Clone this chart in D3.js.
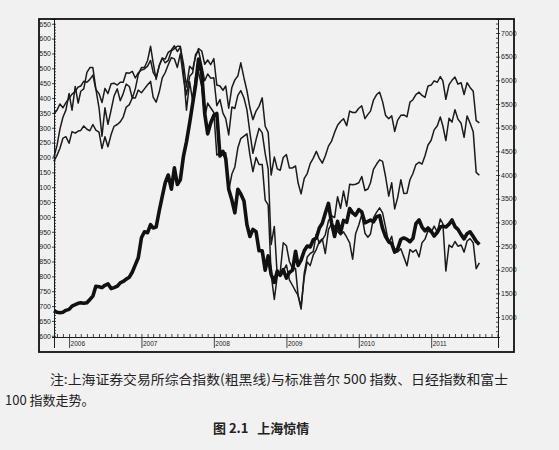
<!DOCTYPE html>
<html><head><meta charset="utf-8">
<script src="https://cdn.jsdelivr.net/npm/d3@7"></script>
<style>body{margin:0;background:#f1f1f1}svg{display:block}</style>
</head><body><svg id="c" width="559" height="450"></svg>
<script>
// ---- tick labels ----
const leftTickValues = [600,650,700,750,800,850,900,950,1000,1050,1100,1150,1200,1250,1300,1350,1400,1450,1500,1550,1600,1650];
const leftTickLabels = ["600","650","700","750","800","850","900","950","000","050","100","150","200","250","300","350","400","450","500","550","600","650"];
const rightTickValues = [1000,1500,2000,2500,3000,3500,4000,4500,5000,5500,6000,6500,7000];
const yearLabels = ["2006","2007","2008","2009","2010","2011"];

// ---- series (semi-monthly, 1st and 16th of each month, from 16 Oct 2005 to 1 Sep 2011) ----
// S&P 500 (left axis)
const sp500 = [
 1187,1207,1231,1265,1270,
 1248,1287,1282,1289,1291,1306,1295,1290,1311,1292,1285,1230,1270,1236,1277,1305,1311,1320,1336,1369,1378,1401,1400,1427,
 1418,1431,1445,1456,1403,1386,1421,1468,1486,1512,1536,1532,1503,1549,1465,1411,1473,1484,1547,1560,1509,1458,1481,1467,
 1468,1374,1395,1349,1331,1276,1370,1365,1409,1425,1400,1360,1284,1214,1260,1298,1283,1213,1161,907,968,800,816,913,
 903,850,826,827,735,690,811,865,877,883,942,911,923,940,987,1004,998,1068,1029,1087,1036,1110,1108,1110,
 1115,1136,1089,1094,1115,1160,1178,1192,1187,1136,1070,1115,1027,1065,1125,1079,1080,1125,1146,1176,1184,1178,1206,1242,
 1258,1293,1307,1336,1306,1257,1332,1319,1361,1329,1315,1268,1340,1316,1287,1150,1140];
// FTSE 100 (right axis)
const ftse100 = [
 5290,5370,5500,5420,5530,
 5620,5710,5760,5860,5880,5980,5960,6020,6110,5810,5720,5530,5830,5720,5930,5940,5900,5960,5960,6160,6150,6190,6050,6160,
 6220,6240,6300,6420,6170,6060,6310,6470,6450,6590,6640,6730,6610,6700,6350,5860,6300,6230,6500,6670,6620,6340,6430,6330,
 6460,5900,5880,5790,5880,5410,5850,6010,6090,6370,6050,5780,5420,5170,5350,5450,5630,5030,4900,4000,4380,4130,4100,4370,
 4430,4150,4150,4190,3830,3600,3930,4030,4240,4350,4500,4350,4250,4400,4610,4710,4900,5050,5130,5190,5040,5350,5320,5320,
 5410,5460,5190,5280,5350,5580,5700,5750,5550,5260,5190,5250,4920,5160,5260,5270,5230,5540,5590,5700,5750,5680,5640,5880,
 5900,5990,5960,6080,5990,5600,5910,6000,6070,5920,5950,5700,5950,5850,5770,5150,5100];
// Nikkei (read against right axis)
const nikkei = [
 4370,4620,4970,5220,5370,
 5720,5370,5870,5520,5770,5820,6170,6270,6270,5820,5420,4820,5420,5070,5370,5670,5820,5570,5720,5920,5870,5620,5820,6120,
 6270,6270,6420,6720,6370,6020,6320,6470,6370,6420,6620,6670,6720,6720,6170,5370,5970,5570,6070,6170,5870,5220,5520,5420,
 5320,4420,4470,4470,4470,3670,4020,4170,4570,4770,4820,4870,4420,4070,4370,4220,4220,3470,3370,1900,1370,1870,1920,1970,
 2100,1785,1665,1545,1455,1220,1845,2160,2085,2305,2430,2595,2650,2340,2845,2970,2920,2805,2735,2800,2685,2565,2220,2760,
 2945,3160,2770,2685,2755,3095,3215,3305,3200,2900,2555,2705,2360,2375,2440,2270,2080,2425,2370,2420,2270,2570,2645,2820,
 2785,2920,2790,3070,2970,1970,2520,2470,2595,2495,2520,2370,2605,2655,2570,2020,2145];
// Shanghai Composite (thick line, right axis)
const shanghai = [
 1130,1100,1090,1100,1140,
 1161,1230,1260,1290,1300,1290,1300,1370,1440,1650,1640,1620,1670,1700,1600,1620,1650,1720,1750,1800,1840,1950,2100,2250,
 2675,2800,2780,2950,2880,2900,3250,3550,3840,4000,3700,4150,3800,3900,4400,4700,5100,5500,5900,6450,6150,5300,4870,5100,
 5260,5300,4400,4500,4350,3700,3470,3200,3700,3600,3450,2950,2700,2850,2800,2400,2400,1990,2290,1900,1730,1970,1880,2000,
 1820,1940,1990,2390,2090,2200,2400,2500,2480,2630,2670,2880,2980,3190,3400,3000,2700,3020,2780,3040,3000,3290,3200,3150,
 3270,3220,2990,3020,3050,3010,3120,3140,2870,2700,2590,2550,2370,2440,2640,2670,2640,2590,2660,2970,3050,2900,2820,2880,
 2810,2710,2790,2900,2920,2900,2960,3050,2910,2850,2740,2650,2760,2800,2700,2600,2530];

const noteLine1 = "注:上海证券交易所综合指数(粗黑线)与标准普尔 500 指数、日经指数和富士";
const noteLine2 = "100 指数走势。";
const figTitle = "图 2.1   上海惊情";

// ---- date grid ----
const dates = [new Date(2005,9,16)];
for (let t = new Date(2005,10,1); t <= new Date(2011,8,1); t = d3.timeMonth.offset(t,1)) {
  dates.push(t);
  if (t < new Date(2011,8,1)) dates.push(new Date(t.getFullYear(), t.getMonth(), 16));
}
const zip = arr => arr.map((v,i)=>({date:dates[i], v})).filter(d=>d.date);

const svg = d3.select('#c');
const X0=54, X1=498, YT=19, YB=337;
const x = d3.scaleTime().domain([new Date(2005,9,17), new Date(2011,11,4)]).range([X0,X1]);
const yL = d3.scaleLinear().domain([596,1666]).range([YB,YT]);
const yR = d3.scaleLinear().domain([577,7296]).range([YB,YT]);

const tickFont = '"Liberation Sans Narrow","Liberation Sans",Arial,sans-serif';
const ink = '#1b1b1b';

// series
const g = svg.append('g');
const lineL = d3.line().x(d=>x(d.date)).y(d=>yL(d.v));
const lineR = d3.line().x(d=>x(d.date)).y(d=>yR(d.v));
g.append('path').attr('d', lineR(zip(nikkei))).attr('fill','none').attr('stroke',ink).attr('stroke-width',1.5).attr('stroke-linejoin','round');
g.append('path').attr('d', lineR(zip(ftse100))).attr('fill','none').attr('stroke',ink).attr('stroke-width',1.5).attr('stroke-linejoin','round');
g.append('path').attr('d', lineL(zip(sp500))).attr('fill','none').attr('stroke',ink).attr('stroke-width',1.5).attr('stroke-linejoin','round');
g.append('path').attr('d', lineR(zip(shanghai))).attr('fill','none').attr('stroke','#111').attr('stroke-width',3.6).attr('stroke-linejoin','round');

// left axis
svg.append('g').attr('transform',`translate(${X0},0)`)
  .call(d3.axisLeft(yL).tickValues(leftTickValues).tickFormat((d,i)=>leftTickLabels[i]).tickSize(2).tickPadding(1));
svg.append('g').attr('transform',`translate(${X0},0)`)
  .call(d3.axisRight(yL).tickValues(d3.range(600,1651,10)).tickFormat('').tickSize(2));
// right axis
svg.append('g').attr('transform',`translate(${X1},0)`)
  .call(d3.axisRight(yR).tickValues(rightTickValues).tickFormat(d3.format('d')).tickSize(2).tickPadding(1));
svg.append('g').attr('transform',`translate(${X1},0)`)
  .call(d3.axisLeft(yR).tickValues(d3.range(700,7201,100)).tickFormat('').tickSize(2));
// bottom axis
const yearDates = yearLabels.map(s=>new Date(+s,0,1));
svg.append('g').attr('transform',`translate(0,${YB})`)
  .call(d3.axisTop(x).ticks(d3.timeMonth.every(1)).tickFormat('').tickSize(3));
svg.append('g').attr('transform',`translate(0,${YB})`)
  .call(d3.axisBottom(x).tickValues(yearDates).tickFormat('').tickSize(11));
svg.selectAll('.yl').data(yearLabels).enter().append('text')
  .attr('x',(d,i)=>x(yearDates[i])+1.5).attr('y',YB+8.5)
  .attr('font-family',tickFont).attr('font-size',6.5).attr('fill',ink).text(d=>d);

svg.selectAll('.domain').attr('stroke',ink).attr('stroke-width',1);
svg.selectAll('.tick line').attr('stroke',ink).attr('stroke-width',0.8);
svg.selectAll('.tick text').attr('font-family',tickFont).attr('font-size',7).attr('fill',ink);

// frame
svg.append('rect').attr('x',39).attr('y',19).attr('width',475).attr('height',333)
  .attr('fill','none').attr('stroke','#111').attr('stroke-width',1.8);

// captions
const cjk = '"Noto Sans CJK SC","Noto Sans CJK JP",sans-serif';
svg.append('text').attr('x',50).attr('y',384).attr('font-family',cjk).attr('font-size',13)
  .attr('fill','#222').attr('textLength',458).attr('lengthAdjust','spacingAndGlyphs').text(noteLine1);
svg.append('text').attr('x',5).attr('y',405).attr('font-family',cjk).attr('font-size',13)
  .attr('fill','#222').text(noteLine2);
svg.append('text').attr('x',213).attr('y',433).attr('font-family',cjk).attr('font-size',13).attr('font-weight','bold')
  .attr('fill','#222').attr('xml:space','preserve').text(figTitle);
</script></body></html>
